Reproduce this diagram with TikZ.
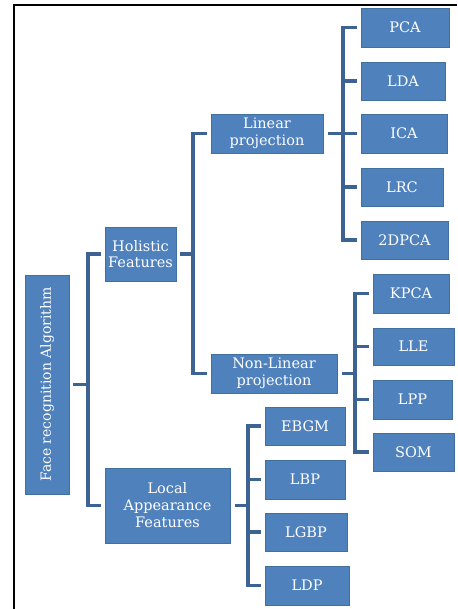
\documentclass[tikz,border=0pt]{standalone}
\usepackage{fontspec}
\setmainfont{DejaVu Serif}
\definecolor{boxfill}{HTML}{4F81BD}
\definecolor{boxline}{HTML}{41709F}
\definecolor{connc}{HTML}{3D6393}
\begin{document}
\begin{tikzpicture}[x=1pt,y=1pt,
  box/.style={draw=boxline, fill=boxfill, text=white, align=center, inner sep=0pt,
    line width=0.6pt, font=\fontsize{14.5}{16.5}\selectfont},
  conn/.style={draw=connc, line width=3.2pt}]
\useasboundingbox (0,0) rectangle (457,609);
\draw[line width=1.5pt] (14,0) -- (14,604) -- (457,604);
% leaves
\node[box, minimum width=88, minimum height=39] (pca) at (405,581.5) {PCA};
\node[box, minimum width=84, minimum height=38] (lda) at (403,528) {LDA};
\node[box, minimum width=86, minimum height=39] (ica) at (404,475.5) {ICA};
\node[box, minimum width=82, minimum height=38] (lrc) at (402,422) {LRC};
\node[box, minimum width=87, minimum height=38] (dpca) at (404.5,369) {2DPCA};
\node[box, minimum width=76, minimum height=39] (kpca) at (411,315.5) {KPCA};
\node[box, minimum width=81, minimum height=37] (lle) at (413.5,262.5) {LLE};
\node[box, minimum width=79, minimum height=39] (lpp) at (412.5,209.5) {LPP};
\node[box, minimum width=81, minimum height=38] (som) at (413.5,157) {SOM};
\node[box, minimum width=80, minimum height=38] (ebgm) at (305,183) {EBGM};
\node[box, minimum width=80, minimum height=39] (lbp) at (305,129.5) {LBP};
\node[box, minimum width=82, minimum height=38] (lgbp) at (306,77) {LGBP};
\node[box, minimum width=84, minimum height=39] (ldp) at (307,23.5) {LDP};
% middle
\node[box, minimum width=112, minimum height=39] (lin) at (267,475.5) {Linear\\projection};
\node[box, minimum width=126, minimum height=39] (nonlin) at (274,235.5) {Non-Linear\\projection};
\node[box, minimum width=71, minimum height=54] (hol) at (140.5,355) {Holistic\\Features};
\node[box, minimum width=125, minimum height=75, font=\fontsize{14.5}{17}\selectfont] (loc) at (167.5,103.5) {Local\\Appearance\\Features};
\node[box, minimum width=44, minimum height=219] (root) at (47,224.5) {};
\node[text=white, rotate=90, font=\fontsize{14}{16}\selectfont, inner sep=0pt] (roottxt) at (root.center) {Face recognition Algorithm};
% bar positions
\coordinate (b0) at (88,0);
\coordinate (b1) at (193,0);
\coordinate (b2) at (343,0);
\coordinate (b3) at (355,0);
\coordinate (b4) at (248,0);
% root
\draw[conn] ([xshift=4]root.east) -- (b0 |- root.east);
\draw[conn] ([xshift=-4]hol.west) -- (b0 |- hol.west) -- (b0 |- loc.west) -- ([xshift=-4]loc.west);
% holistic
\draw[conn] ([xshift=4]hol.east) -- (b1 |- hol.east);
\draw[conn] ([xshift=-4]lin.west) -- (b1 |- lin.west) -- (b1 |- nonlin.west) -- ([xshift=-4]nonlin.west);
% linear
\draw[conn] ([xshift=5]lin.east) -- (b2 |- lin.east);
\draw[conn] ([xshift=-4]pca.west) -- (b2 |- pca.west) -- (b2 |- dpca.west) -- ([xshift=-4]dpca.west);
\draw[conn] (b2 |- lda.west) -- ([xshift=-4]lda.west);
\draw[conn] (b2 |- ica.west) -- ([xshift=-4]ica.west);
\draw[conn] (b2 |- lrc.west) -- ([xshift=-4]lrc.west);
% non-linear
\draw[conn] ([xshift=5]nonlin.east) -- (b3 |- nonlin.east);
\draw[conn] ([xshift=-4]kpca.west) -- (b3 |- kpca.west) -- (b3 |- som.west) -- ([xshift=-4]som.west);
\draw[conn] (b3 |- lle.west) -- ([xshift=-4]lle.west);
\draw[conn] (b3 |- lpp.west) -- ([xshift=-4]lpp.west);
% local
\draw[conn] ([xshift=5]loc.east) -- (b4 |- loc.east);
\draw[conn] ([xshift=-4]ebgm.west) -- (b4 |- ebgm.west) -- (b4 |- ldp.west) -- ([xshift=-4]ldp.west);
\draw[conn] (b4 |- lbp.west) -- ([xshift=-4]lbp.west);
\draw[conn] (b4 |- lgbp.west) -- ([xshift=-4]lgbp.west);
\end{tikzpicture}
\end{document}
